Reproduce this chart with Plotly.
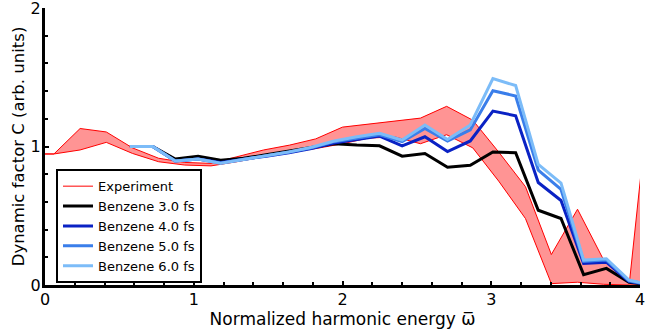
import plotly.graph_objects as go

# Experiment band (x positions and upper/lower bounds)
exp_x = [-0.116, 0.06, 0.236, 0.412, 0.588, 0.764, 0.94, 1.116, 1.29, 1.47, 1.644, 1.82,
         2.0, 2.17, 2.35, 2.524, 2.70, 2.876, 3.05, 3.23, 3.404, 3.58, 3.756, 3.93, 4.108]
exp_upper = [0.946, 0.946, 1.13, 1.105, 0.99, 0.915, 0.885, 0.878, 0.926, 0.975, 1.01, 1.055,
             1.14, 1.16, 1.18, 1.205, 1.29, 1.19, 0.96, 0.71, 0.22, 0.547, 0.18, 0.03, 1.83]
exp_lower = [0.946, 0.946, 0.975, 1.03, 0.95, 0.89, 0.866, 0.86, 0.89, 0.926, 0.96, 0.985,
             1.02, 1.06, 1.07, 1.02, 1.085, 0.99, 0.75, 0.48, 0.01, 0.02, 0.005, 0.0, 0.0]

# Simulations
sim_x = [0.571, 0.724, 0.876, 1.029, 1.181, 1.334, 1.486, 1.639, 1.791, 1.944, 2.096, 2.249,
         2.401, 2.554, 2.706, 2.859, 3.011, 3.164, 3.316, 3.469, 3.621, 3.774, 3.926, 4.079]
benz_3 = [1.0, 1.0, 0.91, 0.93, 0.90, 0.915, 0.94, 0.965, 0.99, 1.02, 1.01, 1.005,
          0.93, 0.95, 0.85, 0.865, 0.96, 0.955, 0.54, 0.48, 0.075, 0.12, 0.02, 0.0]
benz_4 = [1.0, 1.0, 0.895, 0.91, 0.885, 0.905, 0.93, 0.955, 0.985, 1.025, 1.05, 1.075,
          1.005, 1.07, 0.963, 1.04, 1.256, 1.222, 0.74, 0.61, 0.155, 0.165, 0.025, 0.0]
benz_5 = [1.0, 1.0, 0.895, 0.91, 0.88, 0.905, 0.935, 0.96, 0.99, 1.035, 1.06, 1.085,
          1.035, 1.13, 1.04, 1.12, 1.403, 1.365, 0.83, 0.69, 0.17, 0.18, 0.03, 0.0]
benz_6 = [1.0, 1.0, 0.895, 0.91, 0.88, 0.905, 0.935, 0.96, 0.995, 1.04, 1.07, 1.095,
          1.047, 1.155, 1.05, 1.155, 1.49, 1.44, 0.87, 0.735, 0.18, 0.19, 0.036, 0.0]

sim_names = ["Benzene 3.0 fs", "Benzene 4.0 fs", "Benzene 5.0 fs", "Benzene 6.0 fs"]
sim_colors = ["#000000", "#0a22c4", "#3a7eea", "#7cbcf8"]
sim_values = [benz_3, benz_4, benz_5, benz_6]

x_ticks = [0, 1, 2, 3, 4]
y_ticks = [0, 1, 2]

FONT = "DejaVu Sans"

fig = go.Figure()
fig.add_trace(go.Scatter(x=exp_x, y=exp_lower, mode="lines",
                         line=dict(color="#ff0000", width=1), name="Experiment",
                         legendgroup="exp", hoverinfo="skip"))
fig.add_trace(go.Scatter(x=exp_x, y=exp_upper, mode="lines", fill="tonexty",
                         fillcolor="rgba(255,0,0,0.42)", legendgroup="exp",
                         line=dict(color="#ff0000", width=1), showlegend=False))
for name, col, vals in zip(sim_names, sim_colors, sim_values):
    fig.add_trace(go.Scatter(x=sim_x, y=vals, mode="lines",
                             line=dict(color=col, width=3), name=name))

axis_common = dict(
    showline=True, linecolor="black", linewidth=3, mirror=False,
    ticks="inside", ticklen=4, tickwidth=2, tickcolor="black",
    showgrid=False, zeroline=False, automargin=False,
    ticklabeloverflow="allow",
    tickfont=dict(family=FONT, size=16, color="black"),
    minor=dict(dtick=0.2, ticks="inside", ticklen=3, tickwidth=2, tickcolor="black",
               showgrid=False),
)

fig.update_layout(
    width=646, height=330,
    margin=dict(l=45, r=6, t=8, b=45),
    plot_bgcolor="white", paper_bgcolor="white",
    font=dict(family=FONT, size=15, color="black"),
    xaxis=dict(range=[0, 4], tickvals=x_ticks, ticktext=[str(v) for v in x_ticks],
               title=dict(text="Normalized harmonic energy \u03c9\u0305",
                          font=dict(family=FONT, size=17), standoff=4),
               ticklabelstandoff=-2,
               **axis_common),
    yaxis=dict(range=[0, 2], tickvals=y_ticks, ticktext=[str(v) for v in y_ticks],
               title=dict(text="Dynamic factor C (arb. units)",
                          font=dict(family=FONT, size=16.5), standoff=2),
               ticklabelstandoff=-2,
               **axis_common),
    legend=dict(x=0.0185, y=0.418, xanchor="left", yanchor="top",
                bordercolor="black", borderwidth=2, bgcolor="white",
                font=dict(family=FONT, size=13, color="black"),
                traceorder="normal", itemwidth=30, tracegroupgap=0),
    showlegend=True,
)

fig.write_html("out.html", config={"displayModeBar": False},
               post_script="document.body.style.margin='0';document.body.style.overflow='hidden';")
